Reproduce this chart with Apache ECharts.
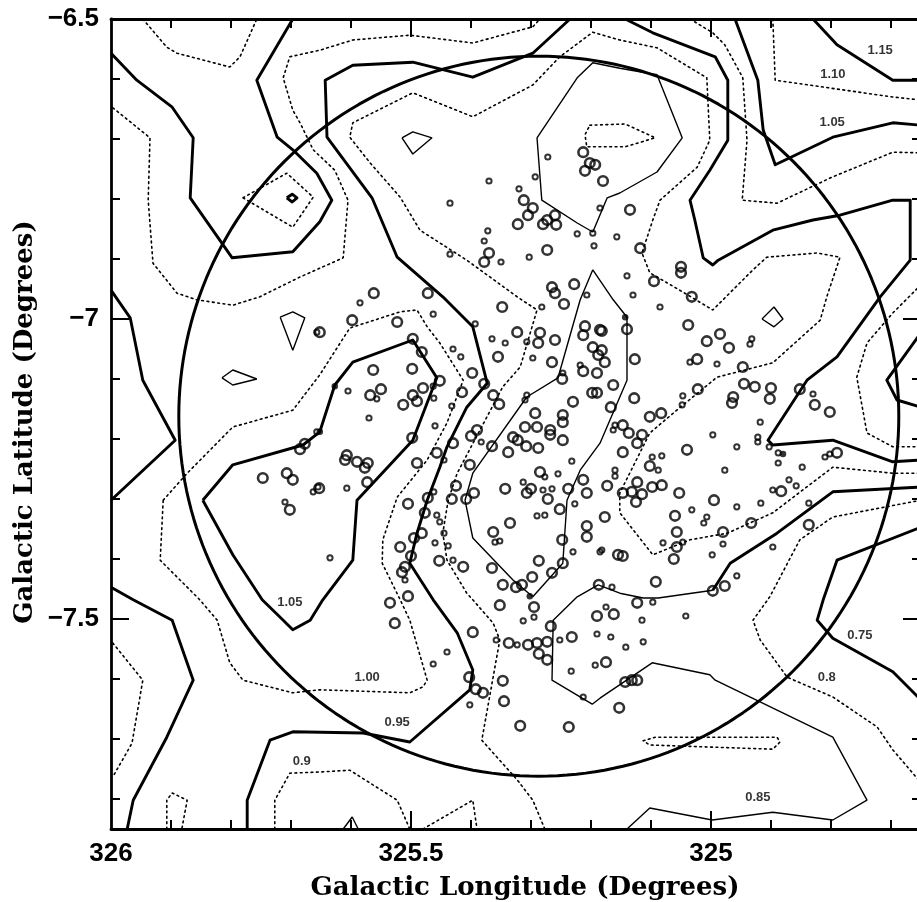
<!DOCTYPE html>
<html>
<head>
<meta charset="utf-8">
<script src="https://cdn.jsdelivr.net/npm/echarts/dist/echarts.min.js"></script>
<style>html,body{margin:0;padding:0;background:#fff}#chart{width:917px;height:902px}</style>
</head>
<body>
<div id="chart"></div>
<script>
// ---------- axes ----------
const X_MIN = 324.65, X_MAX = 326;
const Y_MIN = -7.85, Y_MAX = -6.5;
const xLabels = [326, 325.5, 325];
const xMajorTicks = [325.5, 325];
const xMinorTicks = [325.9, 325.8, 325.7, 325.6, 325.4, 325.3, 325.2, 325.1, 324.9, 324.8, 324.7];
const yLabels = [-6.5, -7, -7.5];
const yMajorTicks = [-7, -7.5];
const yMinorTicks = [-6.6, -6.7, -6.8, -6.9, -7.1, -7.2, -7.3, -7.4, -7.6, -7.7, -7.8];
const xTitle = 'Galactic Longitude (Degrees)';
const yTitle = 'Galactic Latitude (Degrees)';

// ---------- survey circle ----------
const ringCenter = [325.287, -7.162];
const ringRadius = 0.6;

// ---------- contour lines (thick solid) ----------
const lineT1 = [[326.000,-6.557],[325.957,-6.602],[325.898,-6.647],[325.863,-6.698],[325.868,-6.798],[325.798,-6.898],[325.697,-6.888],[325.652,-6.838],[325.632,-6.802],[325.657,-6.757],[325.697,-6.718],[325.723,-6.697],[325.757,-6.602],[325.697,-6.500]];
const lineT2 = [[325.235,-6.500],[325.297,-6.557],[325.397,-6.597],[325.497,-6.572],[325.597,-6.577],[325.643,-6.602],[325.640,-6.697],[325.565,-6.798],[325.523,-6.897],[325.447,-6.963],[325.397,-7.013],[325.373,-7.107],[325.407,-7.147],[325.440,-7.213],[325.452,-7.247],[325.473,-7.302],[325.490,-7.357],[325.502,-7.407],[325.463,-7.468],[325.423,-7.523],[325.397,-7.585],[325.402,-7.618],[325.502,-7.705],[325.580,-7.690],[325.697,-7.688],[325.735,-7.702],[325.773,-7.802],[325.773,-7.850]];
const lineT9 = [[325.847,-7.302],[325.797,-7.393],[325.748,-7.468],[325.713,-7.502],[325.697,-7.518],[325.668,-7.502],[325.647,-7.468],[325.597,-7.402],[325.590,-7.302],[325.497,-7.202],[325.457,-7.098],[325.497,-7.035],[325.597,-7.072],[325.627,-7.110],[325.652,-7.188],[325.680,-7.210],[325.797,-7.243],[325.847,-7.302]];
const lineT11a = [[326.000,-6.952],[325.968,-6.998],[325.947,-7.102],[325.893,-7.202],[326.000,-7.302]];
const lineT11b = [[326.000,-7.447],[325.963,-7.468],[325.898,-7.502],[325.863,-7.602],[325.907,-7.697],[325.963,-7.802],[325.973,-7.850]];
const lineT3 = [[325.143,-6.500],[325.097,-6.523],[324.993,-6.563],[324.972,-6.602],[324.972,-6.702],[325.002,-6.752],[325.035,-6.802],[325.027,-6.835],[325.013,-6.898],[324.997,-6.910],[324.988,-6.902],[324.897,-6.852],[324.830,-6.835],[324.785,-6.827],[324.697,-6.802],[324.668,-6.802],[324.668,-6.902],[324.718,-6.963],[324.790,-7.063],[324.840,-7.102],[324.905,-7.202],[324.897,-7.210],[324.797,-7.202],[324.697,-7.238],[324.650,-7.235]];
const lineT4 = [[324.960,-6.500],[324.922,-6.602],[324.913,-6.685],[324.893,-6.743],[324.797,-6.697],[324.697,-6.673],[324.650,-6.677]];
const lineT5 = [[324.830,-6.500],[324.790,-6.543],[324.697,-6.602],[324.650,-6.602]];
const lineV = [[324.650,-7.023],[324.707,-7.102],[324.690,-7.135],[324.650,-7.147]];
const lineT6 = [[324.650,-7.280],[324.797,-7.288],[324.890,-7.357],[324.968,-7.407],[324.997,-7.452]];
const lineT7 = [[324.650,-7.347],[324.790,-7.402],[324.813,-7.468],[324.823,-7.502],[324.797,-7.532],[324.697,-7.588],[324.650,-7.635]];
const diamondThick = [[325.707,-6.798],[325.698,-6.792],[325.690,-6.798],[325.698,-6.805],[325.707,-6.798]];

// ---------- contour lines (thin solid) ----------
const lineN1 = [[325.290,-6.698],[325.223,-6.598],[325.197,-6.573],[325.152,-6.582],[325.090,-6.593],[325.048,-6.698],[325.090,-6.755],[325.152,-6.790],[325.173,-6.798],[325.197,-6.855],[325.223,-6.840],[325.282,-6.802],[325.290,-6.698]];
const lineN3 = [[325.197,-6.918],[325.218,-6.968],[325.255,-7.098],[325.307,-7.130],[325.397,-7.257],[325.410,-7.302],[325.397,-7.365],[325.330,-7.435],[325.297,-7.463],[325.247,-7.407],[325.240,-7.302],[325.218,-7.252],[325.185,-7.207],[325.140,-7.102],[325.140,-6.997],[325.163,-6.968],[325.197,-6.918]];
const lineN2 = [[324.997,-7.452],[325.088,-7.465],[325.113,-7.465],[325.152,-7.457],[325.188,-7.443],[325.223,-7.463],[325.263,-7.502],[325.265,-7.602],[325.198,-7.642],[325.185,-7.632],[325.098,-7.573],[325.002,-7.593],[324.993,-7.602],[324.797,-7.697],[324.740,-7.802],[324.797,-7.835],[324.897,-7.822],[324.998,-7.835],[325.102,-7.815],[325.140,-7.850]];
const polyA = [[325.515,-6.698],[325.497,-6.688],[325.465,-6.698],[325.497,-6.725],[325.515,-6.698]];
const polyB = [[325.718,-6.997],[325.697,-6.988],[325.677,-6.998],[325.697,-7.052],[325.718,-6.997]];
const polyC = [[325.815,-7.098],[325.797,-7.085],[325.757,-7.100],[325.797,-7.110],[325.815,-7.098]];
const polyD = [[324.915,-7.000],[324.895,-6.980],[324.880,-7.000],[324.895,-7.013],[324.915,-7.000]];
const polyE = [[325.613,-7.850],[325.598,-7.830],[325.588,-7.850]];

// ---------- contour lines (dotted) ----------
const lineD1 = [[325.947,-6.500],[325.907,-6.547],[325.890,-6.557],[325.802,-6.580],[325.785,-6.563],[325.757,-6.500]];
const lineD3 = [[325.997,-6.648],[325.935,-6.698],[325.938,-6.802],[325.930,-6.907],[325.890,-6.957],[325.857,-6.968],[325.797,-6.977],[325.752,-6.963],[325.685,-6.930],[325.613,-6.898],[325.605,-6.802],[325.627,-6.752],[325.663,-6.718],[325.685,-6.673],[325.697,-6.652],[325.713,-6.598],[325.702,-6.563],[325.652,-6.552],[325.597,-6.535],[325.502,-6.527],[325.397,-6.540],[325.297,-6.513],[325.285,-6.500]];
const loopD2 = [[325.780,-6.798],[325.707,-6.757],[325.663,-6.797],[325.697,-6.847],[325.780,-6.798]];
const lineD5 = [[325.277,-7.850],[325.297,-7.802],[325.323,-7.768],[325.382,-7.702],[325.352,-7.535],[325.363,-7.507],[325.397,-7.468],[325.407,-7.457],[325.440,-7.402],[325.447,-7.357],[325.438,-7.302],[325.423,-7.257],[325.385,-7.185],[325.347,-7.113],[325.318,-7.080],[325.290,-6.985],[325.323,-6.963],[325.407,-6.902],[325.485,-6.852],[325.518,-6.797],[325.568,-6.740],[325.602,-6.697],[325.597,-6.673],[325.497,-6.623],[325.397,-6.663],[325.297,-6.610],[325.252,-6.563],[325.197,-6.522],[325.152,-6.535],[325.090,-6.548],[325.007,-6.598],[325.002,-6.702],[325.023,-6.747],[325.085,-6.802],[325.097,-6.835],[325.115,-6.890],[325.102,-6.923],[325.047,-6.955],[324.997,-6.985],[324.930,-6.918],[324.907,-6.897],[324.823,-6.890],[324.785,-6.897],[324.807,-6.963],[324.818,-7.002],[324.897,-7.073],[324.990,-7.097],[325.057,-7.152],[325.102,-7.190],[325.152,-7.290],[325.152,-7.323],[325.097,-7.393],[325.035,-7.368],[324.973,-7.357],[324.897,-7.323],[324.797,-7.247],[324.697,-7.257],[324.650,-7.257]];
const lineD13 = [[325.913,-7.302],[325.873,-7.257],[325.797,-7.180],[325.697,-7.152],[325.652,-7.093],[325.602,-7.015],[325.518,-6.988],[325.490,-6.985],[325.473,-7.013],[325.452,-7.040],[325.413,-7.102],[325.440,-7.173],[325.473,-7.235],[325.523,-7.297],[325.547,-7.368],[325.548,-7.407],[325.518,-7.468],[325.502,-7.502],[325.473,-7.602],[325.480,-7.613],[325.502,-7.623],[325.652,-7.618],[325.697,-7.623],[325.780,-7.602],[325.802,-7.573],[325.823,-7.502],[325.852,-7.468],[325.918,-7.402],[325.913,-7.302]];
const lineD10 = [[325.997,-7.540],[325.947,-7.602],[325.965,-7.707],[325.997,-7.763]];
const archD = [[325.907,-7.850],[325.907,-7.802],[325.898,-7.790],[325.873,-7.802],[325.882,-7.850]];
const lineD11 = [[325.727,-7.850],[325.727,-7.802],[325.702,-7.757],[325.652,-7.755],[325.602,-7.752],[325.523,-7.802],[325.502,-7.850]];
const lineD12 = [[325.480,-7.850],[325.397,-7.802],[325.390,-7.850]];
const lineD7 = [[325.035,-6.500],[324.997,-6.523],[324.977,-6.543],[324.947,-6.598],[324.940,-6.702],[324.948,-6.802],[324.890,-6.807],[324.797,-6.763],[324.697,-6.722],[324.650,-6.723]];
const lineD6 = [[324.897,-6.500],[324.893,-6.602],[324.697,-6.630],[324.650,-6.635]];
const lineDR = [[324.650,-6.943],[324.697,-6.990],[324.740,-7.040],[324.757,-7.097],[324.740,-7.190],[324.697,-7.213],[324.650,-7.213]];
const lineD9 = [[324.650,-7.302],[324.797,-7.330],[324.852,-7.368],[324.902,-7.463],[324.930,-7.502],[324.918,-7.535],[324.873,-7.597],[324.797,-7.630],[324.723,-7.680],[324.697,-7.718],[324.650,-7.773]];
const ellipseD = [[325.113,-7.703],[325.093,-7.697],[324.890,-7.697],[324.885,-7.705],[324.897,-7.717],[325.102,-7.710],[325.113,-7.703]];
const loopN1 = [[325.202,-6.677],[325.143,-6.675],[325.093,-6.698],[325.143,-6.713],[325.207,-6.713],[325.210,-6.693],[325.202,-6.677]];

// ---------- contour labels ----------
const contourLabelText = ['1.15','1.10','1.05','1.05','1.00','0.95','0.9','0.75','0.8','0.85'];
const contourLabelPos = [[324.718,-6.552],[324.797,-6.593],[324.798,-6.673],[325.702,-7.473],[325.573,-7.597],[325.523,-7.672],[325.682,-7.738],[324.752,-7.527],[324.807,-7.597],[324.922,-7.797]];

// ---------- stars ----------
const starsLarge = [[325.213,-6.722],[325.202,-6.740],[325.193,-6.743],[325.210,-6.753],[325.180,-6.770],[325.312,-6.802],[325.297,-6.815],[325.305,-6.827],[325.322,-6.842],[325.260,-6.827],[325.273,-6.835],[325.280,-6.842],[325.258,-6.843],[325.370,-6.890],[325.378,-6.905],[325.273,-6.885],[325.562,-6.957],[325.472,-6.957],[325.265,-6.947],[325.260,-6.957],[325.228,-6.942],[325.135,-6.818],[325.118,-6.882],[325.050,-6.913],[325.050,-6.923],[325.095,-6.937],[325.032,-6.963],[325.685,-7.217],[325.677,-7.208],[325.747,-7.265],[325.707,-7.257],[325.697,-7.268],[325.702,-7.318],[325.348,-6.980],[325.245,-6.975],[325.598,-7.002],[325.523,-7.005],[325.652,-7.022],[325.323,-7.022],[325.285,-7.023],[325.260,-7.035],[325.288,-7.040],[325.210,-7.012],[325.185,-7.018],[325.213,-7.027],[325.497,-7.033],[325.482,-7.055],[325.355,-7.063],[325.265,-7.072],[325.197,-7.047],[325.182,-7.052],[325.188,-7.060],[325.177,-7.072],[325.563,-7.085],[325.498,-7.083],[325.398,-7.090],[325.248,-7.100],[325.213,-7.087],[325.190,-7.090],[325.163,-7.110],[325.452,-7.103],[325.378,-7.108],[325.480,-7.115],[325.550,-7.117],[325.568,-7.127],[325.497,-7.127],[325.490,-7.137],[325.513,-7.143],[325.415,-7.122],[325.363,-7.127],[325.353,-7.142],[325.198,-7.123],[325.190,-7.123],[325.230,-7.138],[325.167,-7.147],[325.293,-7.157],[325.247,-7.160],[325.247,-7.172],[325.310,-7.180],[325.290,-7.180],[325.268,-7.185],[325.268,-7.193],[325.390,-7.185],[325.400,-7.195],[325.498,-7.198],[325.430,-7.207],[325.365,-7.212],[325.330,-7.197],[325.322,-7.202],[325.308,-7.212],[325.288,-7.215],[325.247,-7.202],[325.338,-7.222],[325.607,-7.227],[325.610,-7.235],[325.590,-7.238],[325.572,-7.240],[325.577,-7.248],[325.457,-7.223],[325.490,-7.240],[325.402,-7.243],[325.285,-7.255],[325.213,-7.268],[325.573,-7.272],[325.653,-7.282],[325.343,-7.283],[325.307,-7.290],[325.300,-7.283],[325.238,-7.283],[325.207,-7.290],[325.173,-7.278],[325.425,-7.278],[325.395,-7.290],[325.432,-7.300],[325.408,-7.300],[325.472,-7.298],[325.505,-7.308],[325.272,-7.300],[325.252,-7.317],[325.477,-7.323],[325.335,-7.340],[325.177,-7.330],[325.207,-7.345],[325.207,-7.363],[325.482,-7.357],[325.495,-7.365],[325.363,-7.355],[325.518,-7.380],[325.500,-7.395],[325.248,-7.368],[325.155,-7.393],[325.453,-7.403],[325.413,-7.413],[325.510,-7.413],[325.515,-7.422],[325.287,-7.403],[325.247,-7.407],[325.265,-7.423],[325.298,-7.430],[325.365,-7.415],[325.347,-7.443],[325.325,-7.447],[325.315,-7.443],[325.187,-7.443],[325.505,-7.462],[325.140,-7.017],[325.038,-7.010],[325.182,-7.020],[324.985,-7.025],[325.007,-7.037],[324.970,-7.048],[325.127,-7.067],[325.023,-7.067],[324.947,-7.080],[325.022,-7.117],[324.945,-7.108],[324.927,-7.113],[324.900,-7.115],[324.852,-7.117],[324.902,-7.133],[324.963,-7.130],[324.965,-7.140],[325.128,-7.132],[324.827,-7.143],[324.802,-7.155],[325.147,-7.177],[325.137,-7.190],[325.115,-7.193],[325.123,-7.207],[325.102,-7.163],[325.083,-7.157],[325.147,-7.222],[325.040,-7.218],[324.790,-7.223],[325.102,-7.245],[325.123,-7.272],[325.147,-7.290],[325.132,-7.288],[325.115,-7.292],[325.098,-7.280],[325.082,-7.277],[325.125,-7.305],[325.053,-7.290],[324.995,-7.302],[324.883,-7.287],[325.060,-7.328],[324.933,-7.340],[324.837,-7.343],[325.057,-7.355],[324.980,-7.355],[325.057,-7.380],[325.147,-7.395],[325.062,-7.400],[325.092,-7.438],[324.977,-7.445],[324.997,-7.453],[325.535,-7.473],[325.527,-7.507],[325.397,-7.522],[325.403,-7.597],[325.392,-7.617],[325.380,-7.623],[325.352,-7.477],[325.295,-7.480],[325.337,-7.540],[325.305,-7.543],[325.290,-7.540],[325.273,-7.538],[325.287,-7.558],[325.273,-7.568],[325.267,-7.512],[325.232,-7.530],[325.190,-7.495],[325.162,-7.492],[325.175,-7.572],[325.347,-7.603],[325.345,-7.637],[325.153,-7.648],[325.318,-7.678],[325.237,-7.680],[325.123,-7.473],[325.143,-7.605],[325.132,-7.602],[325.123,-7.602]];
const starsSmall = [[325.272,-6.730],[325.293,-6.763],[325.370,-6.770],[325.320,-6.783],[325.185,-6.815],[325.435,-6.807],[325.223,-6.858],[325.197,-6.857],[325.195,-6.878],[325.157,-6.863],[325.372,-6.853],[325.378,-6.870],[325.350,-6.905],[325.303,-6.897],[325.435,-6.892],[325.207,-6.960],[325.140,-6.928],[325.130,-6.960],[325.657,-7.022],[325.657,-7.188],[325.710,-7.305],[325.663,-7.288],[325.655,-7.280],[325.585,-6.973],[325.282,-6.980],[325.463,-6.992],[325.393,-7.008],[325.365,-7.033],[325.343,-7.040],[325.307,-7.038],[325.430,-7.050],[325.417,-7.063],[325.297,-7.065],[325.247,-7.090],[325.218,-7.077],[325.557,-7.133],[325.605,-7.120],[325.462,-7.132],[325.463,-7.112],[325.307,-7.127],[325.310,-7.135],[325.570,-7.165],[325.432,-7.145],[325.460,-7.178],[325.383,-7.205],[325.160,-7.177],[325.445,-7.235],[325.232,-7.237],[325.277,-7.263],[325.255,-7.258],[325.160,-7.252],[325.160,-7.262],[325.607,-7.282],[325.313,-7.272],[325.280,-7.285],[325.265,-7.283],[325.462,-7.288],[325.227,-7.308],[325.457,-7.327],[325.452,-7.338],[325.290,-7.328],[325.277,-7.327],[325.360,-7.372],[325.352,-7.370],[325.445,-7.357],[325.460,-7.373],[325.438,-7.378],[325.230,-7.388],[325.185,-7.388],[325.430,-7.402],[325.635,-7.398],[325.510,-7.435],[325.165,-7.447],[325.085,-6.980],[324.932,-7.033],[324.935,-7.042],[325.035,-7.072],[324.990,-7.075],[324.830,-7.125],[325.047,-7.128],[325.048,-7.143],[324.918,-7.172],[325.163,-7.185],[324.997,-7.193],[324.922,-7.197],[324.922,-7.205],[324.957,-7.213],[324.903,-7.213],[324.888,-7.223],[324.888,-7.240],[324.810,-7.230],[324.802,-7.225],[325.098,-7.230],[325.082,-7.228],[325.088,-7.252],[324.977,-7.252],[324.848,-7.247],[324.870,-7.268],[324.858,-7.278],[324.897,-7.285],[324.917,-7.307],[324.957,-7.313],[324.837,-7.307],[325.032,-7.318],[325.007,-7.330],[325.012,-7.340],[325.080,-7.373],[325.047,-7.372],[324.980,-7.375],[324.897,-7.380],[325.182,-7.385],[324.998,-7.393],[324.957,-7.428],[325.440,-7.555],[325.463,-7.575],[325.402,-7.643],[325.295,-7.497],[325.313,-7.503],[325.358,-7.535],[325.323,-7.543],[325.252,-7.535],[325.175,-7.480],[325.190,-7.525],[325.167,-7.530],[325.233,-7.587],[325.193,-7.577],[325.213,-7.630],[325.097,-7.472],[325.115,-7.502],[325.042,-7.495],[325.142,-7.547],[325.113,-7.538]];
const starsFilled = [[325.143,-6.997],[324.880,-7.225],[325.302,-7.462],[325.652,-7.188],[325.627,-7.112]];

// ---------- build ----------
const thickLines = [lineT1, lineT2, lineT9, lineT11a, lineT11b, lineT3, lineT4, lineT5, lineV, lineT6, lineT7, diamondThick];
const thinLines = [lineN1, lineN3, lineN2, polyA, polyB, polyC, polyD, polyE];
const dottedLines = [lineD1, lineD3, loopD2, lineD5, lineD13, lineD10, archD, lineD11, lineD12, lineD7, lineD6, lineDR, lineD9, ellipseD, loopN1];

const ringPts = [];
for (let i = 0; i <= 240; i++) {
  const t = 2 * Math.PI * i / 240;
  ringPts.push([ringCenter[0] + ringRadius * Math.cos(t), ringCenter[1] + ringRadius * Math.sin(t)]);
}

const series = [];
function addLines(list, style) {
  list.forEach(d => series.push({
    type: 'line', data: d, symbol: 'none', showSymbol: false, silent: true,
    lineStyle: style, z: 3, animation: false
  }));
}
addLines(dottedLines, {color: '#000', width: 1.6, type: [1.8, 3.6], cap: 'round'});
addLines(thinLines, {color: '#000', width: 1.4});
addLines(thickLines, {color: '#000', width: 2.9, join: 'round'});
series.push({type: 'line', data: ringPts, symbol: 'none', silent: true, lineStyle: {color: '#000', width: 3}, z: 4});
series.push({type: 'scatter', data: starsLarge, symbol: 'circle', symbolSize: 9.6, silent: true,
  itemStyle: {color: 'rgba(0,0,0,0)', borderColor: '#000', borderWidth: 2.6}, z: 5});
series.push({type: 'scatter', data: starsSmall, symbol: 'circle', symbolSize: 5.2, silent: true,
  itemStyle: {color: 'rgba(0,0,0,0)', borderColor: '#000', borderWidth: 2}, z: 5});
series.push({type: 'scatter', data: starsFilled, symbol: 'circle', symbolSize: 6.5, silent: true,
  itemStyle: {color: '#000'}, z: 5});
series.push({type: 'scatter', silent: true, symbolSize: 1, itemStyle: {color: 'rgba(0,0,0,0)'},
  data: contourLabelPos.map((p, i) => ({name: contourLabelText[i], value: p})),
  label: {show: true, position: 'inside', formatter: '{b}', color: '#000',
    fontFamily: 'Liberation Sans', fontWeight: 'bold', fontSize: 13}, z: 6});

const tickStyle = {color: '#000', width: 2};
const labelFont = {color: '#000', fontFamily: 'Liberation Sans', fontWeight: 'bold', fontSize: 26};
function xAx(pos, major) {
  return {
    type: 'value', min: X_MIN, max: X_MAX, inverse: true, position: pos, gridIndex: 0,
    splitLine: {show: false},
    axisLine: {show: !major, onZero: false, lineStyle: {color: '#000', width: 2.8}},
    axisTick: {show: true, inside: true, length: major ? 18 : 9, customValues: major ? xMajorTicks : xMinorTicks, lineStyle: tickStyle},
    axisLabel: (pos === 'bottom' && major) ? Object.assign({show: true, customValues: xLabels, margin: 12,
      showMinLabel: true, showMaxLabel: true, formatter: v => String(v)}, labelFont) : {show: false}
  };
}
function yAx(pos, major) {
  return {
    type: 'value', min: Y_MIN, max: Y_MAX, position: pos, gridIndex: 0,
    splitLine: {show: false},
    axisLine: {show: !major, onZero: false, lineStyle: {color: '#000', width: 2.8}},
    axisTick: {show: true, inside: true, length: major ? 18 : 9, customValues: major ? yMajorTicks : yMinorTicks, lineStyle: tickStyle},
    axisLabel: (pos === 'left' && major) ? Object.assign({show: true, customValues: yLabels, margin: 12,
      showMinLabel: true, showMaxLabel: true, formatter: v => '\u2212' + Math.abs(v)}, labelFont) : {show: false}
  };
}

const chart = echarts.init(document.getElementById('chart'), null, {renderer: 'canvas'});
chart.setOption({
  animation: false,
  backgroundColor: '#fff',
  grid: {left: 111, top: 19, width: 810, height: 810, containLabel: false, outerBoundsMode: 'none'},
  xAxis: [xAx('bottom', false), xAx('bottom', true), xAx('top', false), xAx('top', true)],
  yAxis: [yAx('left', false), yAx('left', true), yAx('right', false), yAx('right', true)],
  graphic: [
    {type: 'text', x: 525, y: 888, silent: true,
      style: {text: xTitle, fill: '#000', font: 'bold 26px "DejaVu Serif"', align: 'center', verticalAlign: 'middle', textAlign: 'center', textVerticalAlign: 'middle'}},
    {type: 'text', x: 25, y: 422, rotation: Math.PI / 2, silent: true,
      style: {text: yTitle, fill: '#000', font: 'bold 26px "DejaVu Serif"', align: 'center', verticalAlign: 'middle', textAlign: 'center', textVerticalAlign: 'middle'}}
  ],
  series: series
});
</script>
</body>
</html>
